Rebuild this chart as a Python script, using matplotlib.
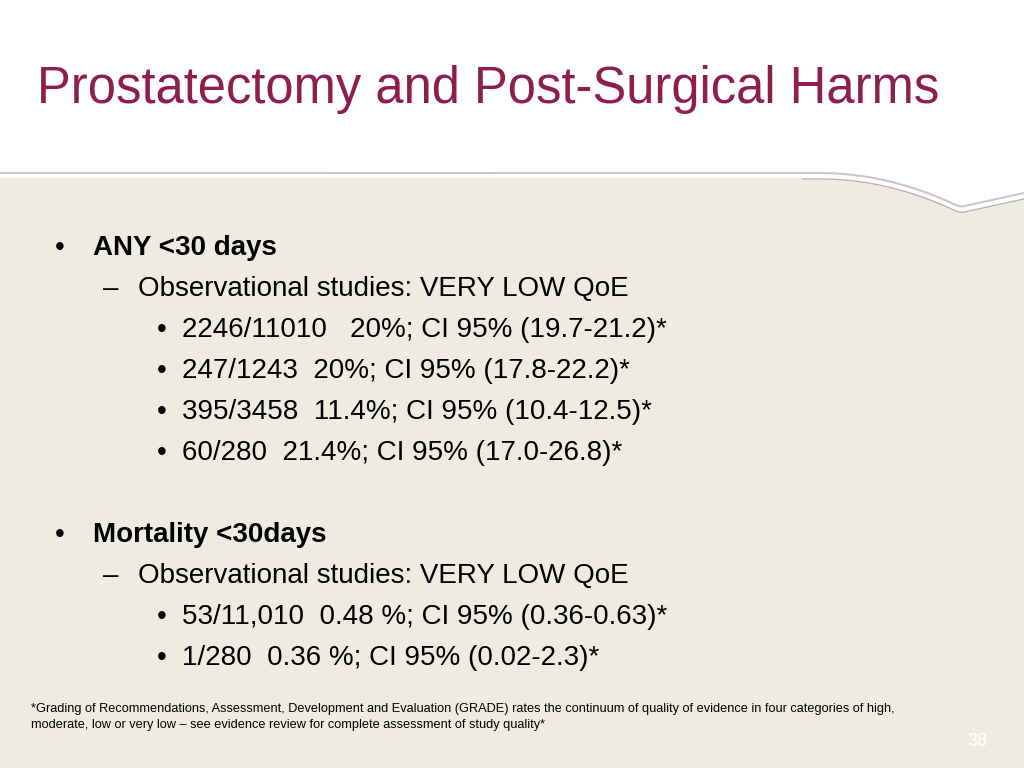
import matplotlib
matplotlib.use("Agg")
import matplotlib.pyplot as plt
import numpy as np
from matplotlib.patches import Polygon

title = "Prostatectomy and Post-Surgical Harms"
level1 = ["ANY <30 days", "Mortality <30days"]
level2 = ["Observational studies: VERY LOW QoE", "Observational studies: VERY LOW QoE"]
level3 = [
    ["2246/11010   20%; CI 95% (19.7-21.2)*",
     "247/1243  20%; CI 95% (17.8-22.2)*",
     "395/3458  11.4%; CI 95% (10.4-12.5)*",
     "60/280  21.4%; CI 95% (17.0-26.8)*"],
    ["53/11,010  0.48 %; CI 95% (0.36-0.63)*",
     "1/280  0.36 %; CI 95% (0.02-2.3)*"],
]
footnote = ("*Grading of Recommendations, Assessment, Development and Evaluation (GRADE) rates the continuum of quality of evidence in four categories of high,\n"
            "moderate, low or very low \u2013 see evidence review for complete assessment of study quality*")
page = "38"

plt.rcParams["font.family"] = ["Liberation Sans", "Arimo", "Arial", "DejaVu Sans"]
fig = plt.figure(figsize=(10.24, 7.68), dpi=100)
ax = fig.add_axes([0, 0, 1, 1])
ax.set_xlim(0, 1024); ax.set_ylim(768, 0); ax.axis("off")

xs = np.linspace(0, 1024, 200)
def top(x):
    base = 178 + 0 * x
    t = np.clip((x - 820) / 140, 0, 1)
    base = base + 34 * t**2
    t2 = np.clip((x - 960) / 64, 0, 1)
    return base - 14 * t2
ys = top(xs)
poly = np.vstack([np.column_stack([xs, ys]), [[1024, 768], [0, 768]]])
ax.add_patch(Polygon(poly, closed=True, fc="#eeece1", ec="none"))
ax.plot(xs, ys - 5, color="#c8c8c8", lw=1.5)
ax.plot(xs[xs > 800], ys[xs > 800] + 1, color="#c9a0b0", lw=0.8)

ax.text(37, 90, title, color="#8e1f4c", fontsize=36.5, va="center", ha="left")

y = 248
dy = 41
fs = 20
for i, l1 in enumerate(level1):
    ax.text(55, y, "\u2022", fontsize=fs, va="center")
    ax.text(93, y, l1, fontsize=fs, fontweight="bold", va="center")
    y += dy
    ax.text(103, y, "\u2013", fontsize=fs, va="center")
    ax.text(138, y, level2[i], fontsize=fs, va="center")
    y += dy
    for s in level3[i]:
        ax.text(157, y, "\u2022", fontsize=fs, va="center")
        ax.text(182, y, s, fontsize=fs, va="center")
        y += dy
    y += dy

ax.text(31, 717, footnote, fontsize=9.2, va="center", linespacing=1.5)
ax.text(977, 742, page, fontsize=13, color="#ffffff", va="center", ha="center")

fig.savefig("out.png", dpi=100)
